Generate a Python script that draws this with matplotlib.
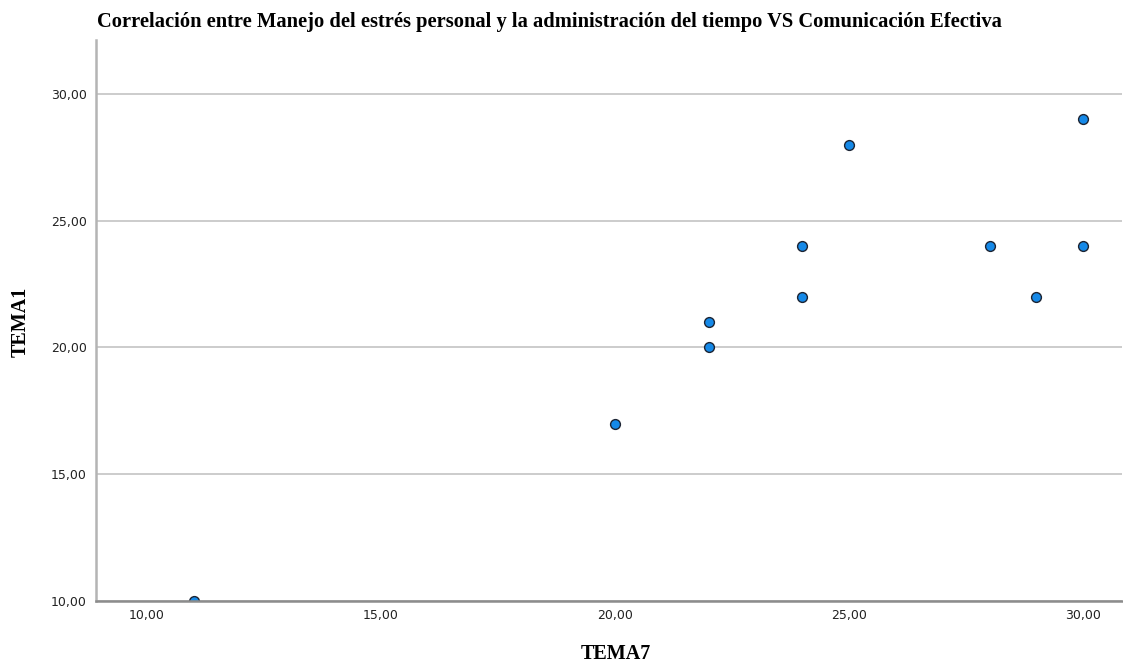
import matplotlib
matplotlib.use("Agg")
import matplotlib.pyplot as plt
from matplotlib.ticker import FuncFormatter

tema7 = [11, 20, 22, 22, 24, 24, 25, 28, 29, 30, 30]
tema1 = [10, 17, 20, 21, 22, 24, 28, 24, 22, 24, 29]
xticks = [10, 15, 20, 25, 30]
yticks = [10, 15, 20, 25, 30]
title = "Correlación entre Manejo del estrés personal y la administración del tiempo VS Comunicación Efectiva"

fig = plt.figure(figsize=(11.23, 6.63), dpi=100)
ax = fig.add_axes([96/1123, 62/663, 1026/1123, 561/663])
ax.set_xlim(8.91, 30.83)
ax.set_ylim(10, 32.13)

ax.scatter(tema7, tema1, s=50, color="#1589e8", edgecolors="#1c2433", linewidths=1.0, zorder=3, clip_on=True)

ax.set_xticks(xticks)
ax.set_yticks(yticks)
fmt = FuncFormatter(lambda v, p: f"{v:.2f}".replace(".", ","))
ax.xaxis.set_major_formatter(fmt)
ax.yaxis.set_major_formatter(fmt)
ax.tick_params(length=0, labelsize=9, colors="#222222")
ax.tick_params(axis="x", pad=6)
ax.tick_params(axis="y", pad=6.5)

ax.grid(axis="y", color="#c8c8c8", linewidth=1.3)
ax.set_axisbelow(True)
for s in ["top", "right"]:
    ax.spines[s].set_visible(False)
ax.spines["left"].set_color("#b4b4b4")
ax.spines["left"].set_linewidth(1.8)
ax.spines["bottom"].set_color("#8c8c8c")
ax.spines["bottom"].set_linewidth(1.8)
ax.spines["bottom"].set_zorder(4)

serif = ["Liberation Serif", "DejaVu Serif"]
fig.text(549/1123, 1 - 22/663, title, ha="center", va="center", fontsize=14.8, fontweight="bold", family=serif)
fig.text(616/1123, 1 - 654/663, "TEMA7", ha="center", va="center", fontsize=14.5, fontweight="bold", family=serif)
fig.text(21/1123, 1 - 322/663, "TEMA1", ha="center", va="center", rotation=90, fontsize=14.5, fontweight="bold", family=serif)

fig.savefig("out.png", dpi=100)
